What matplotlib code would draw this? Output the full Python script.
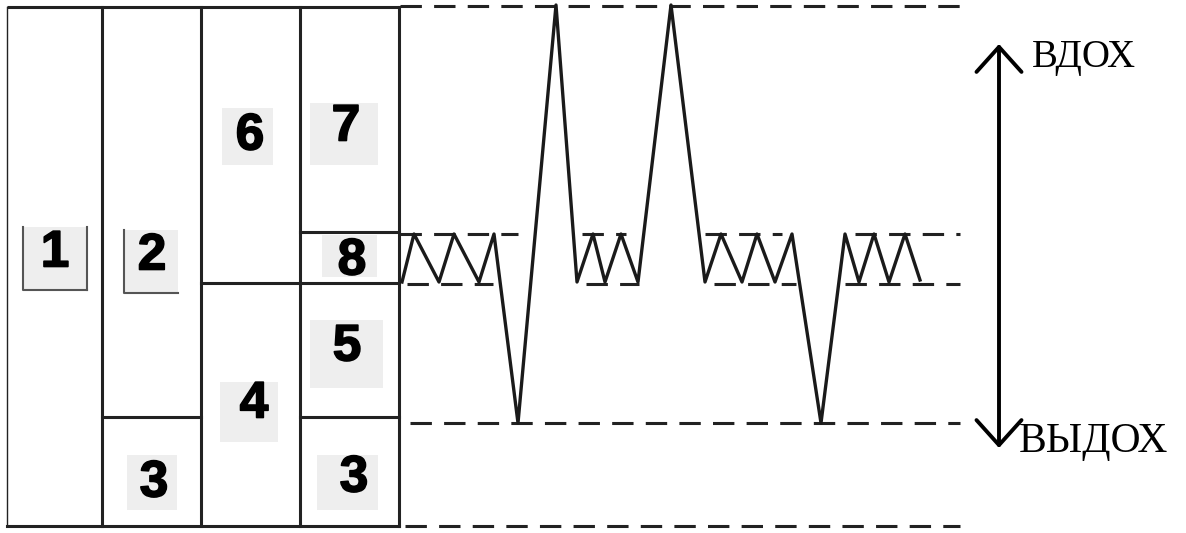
import matplotlib.pyplot as plt
import matplotlib.patheffects as pe

# spirogram trace (picture pixels, y downwards)
trace_x = [402, 414, 439, 454, 479, 494, 518, 556, 577, 593, 605, 621, 638, 671,
           705, 721, 742, 757, 775, 792, 821, 845, 859, 874, 889, 905, 920]
trace_y = [282, 234, 282, 234, 282, 234, 423, 5, 282, 234, 282, 234, 282, 5,
           282, 234, 282, 234, 282, 234, 423, 234, 282, 234, 282, 234, 280]

# volume levels
lvl_top = 6
lvl_insp = 234
lvl_rest = 284
lvl_exp = 423
lvl_bottom = 526

# dashed level segments (x start, x end, level)
dash_segs = [
    (400, 960, lvl_top),
    (400, 518, lvl_insp), (582, 626, lvl_insp), (705, 782, lvl_insp), (855, 960, lvl_insp),
    (407, 493, lvl_rest), (586, 639, lvl_rest), (714, 796, lvl_rest), (845, 960, lvl_rest),
    (410, 960, lvl_exp),
    (405, 960, lvl_bottom),
]

# left block of volumes
col_x = [7, 102, 201, 300, 399]
splits = [(102, 201, 417), (201, 300, 283), (300, 399, 232), (300, 399, 283), (300, 399, 417)]

labels = ['1', '2', '6', '7', '8', '5', '4', '3', '3']
lab_x = [55, 152, 250, 346, 352, 347, 254, 154, 354]
lab_y = [253, 256, 136, 127, 261, 347, 404, 483, 478]
# grey backing squares (x0, y0, x1, y1)
boxes = [(23, 227, 87, 290), (124, 230, 178, 293), (222, 108, 273, 165), (310, 103, 378, 165),
         (322, 235, 377, 277), (310, 320, 383, 388), (220, 382, 278, 442),
         (127, 455, 177, 510), (317, 455, 378, 510)]

fig = plt.figure(figsize=(11.86, 5.33), dpi=100)
ax = fig.add_axes([0, 0, 1, 1])
ax.set_xlim(0, 1186)
ax.set_ylim(533, 0)
ax.axis('off')

lw = 2.2
# frame
ax.plot([col_x[0], col_x[-1]], [7, 7], color='#222222', lw=lw, solid_capstyle='butt')
ax.plot([col_x[0], col_x[-1]], [lvl_bottom, lvl_bottom], color='#222222', lw=lw)
for x in col_x:
    ax.plot([x, x], [7, lvl_bottom], color='#222222', lw=lw if x > 10 else 1.0)
for x0, x1, y in splits:
    ax.plot([x0, x1], [y, y], color='#222222', lw=lw)

for (x0, y0, x1, y1) in boxes:
    ax.fill([x0, x1, x1, x0], [y0, y0, y1, y1], color='#eeeeee', lw=0, zorder=1)
# little frames on boxes 1 and 2
for (x0, y0, x1, y1) in boxes[:2]:
    ax.plot([x0, x0, x1], [y0, y1, y1], color='#555555', lw=1.5, zorder=2)
ax.plot([boxes[0][2], boxes[0][2]], [boxes[0][1], boxes[0][3]], color='#555555', lw=1.5)

heavy = [pe.withStroke(linewidth=1.2, foreground='black')]
for t, x, y in zip(labels, lab_x, lab_y):
    ax.text(x, y, t, fontsize=37, fontweight='bold', family='Liberation Sans',
            ha='center', va='center', color='black', zorder=3, path_effects=heavy)

for x0, x1, y in dash_segs:
    ax.plot([x0, x1], [y, y], color='#222222', lw=2.2, linestyle=(0, (7, 4)))

ax.plot(trace_x, trace_y, color='#1a1a1a', lw=2.4)

# direction arrow
ax.annotate('', xy=(999, 44), xytext=(999, 448),
            arrowprops=dict(arrowstyle='<->, head_length=0.5, head_width=0.45', color='black',
                            lw=2.8, mutation_scale=36, shrinkA=0, shrinkB=0))
ax.text(1032, 58, 'ВДОХ', fontsize=28, family='Liberation Serif', va='center', ha='left')
ax.text(1019, 442, 'ВЫДОХ', fontsize=30, family='Liberation Serif', va='center', ha='left')

fig.savefig('out.png', dpi=100)
